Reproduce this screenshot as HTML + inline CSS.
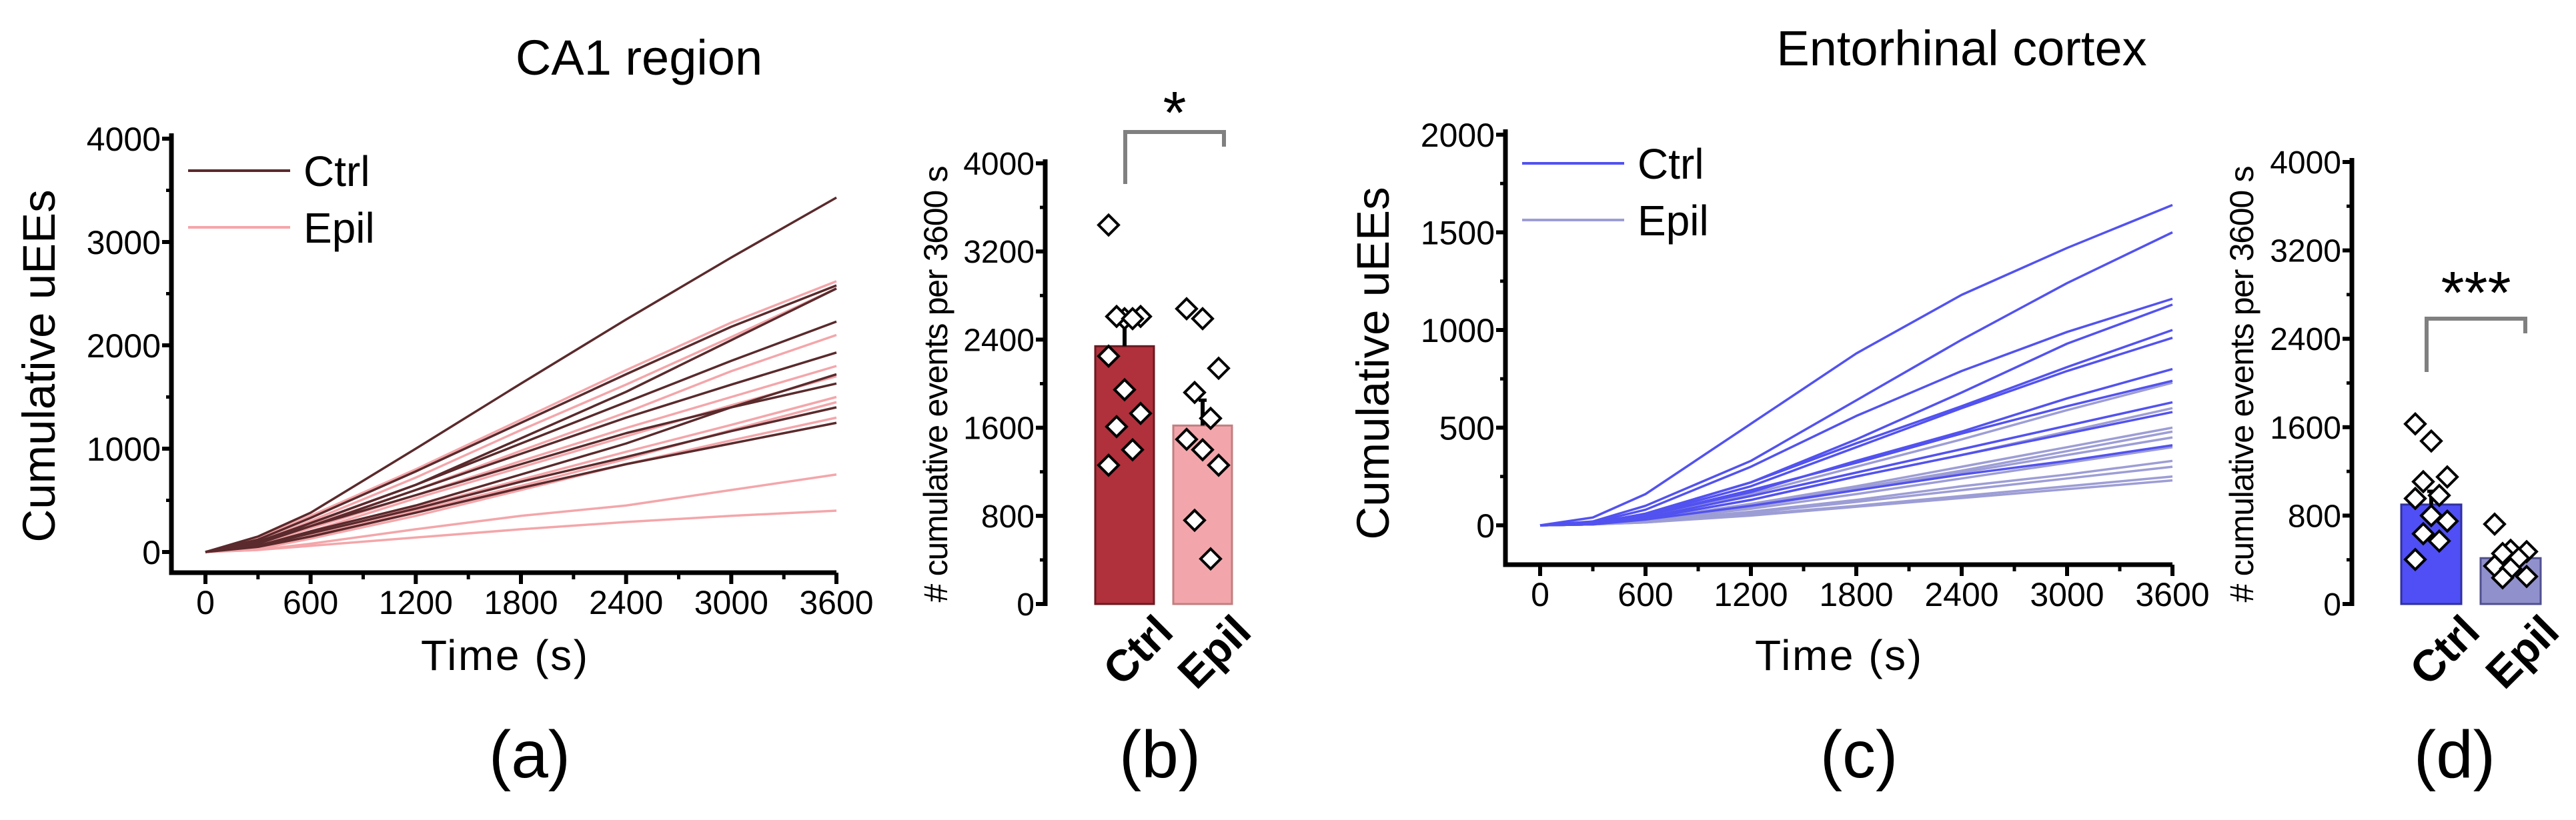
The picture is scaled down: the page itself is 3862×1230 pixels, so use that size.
<!DOCTYPE html>
<html><head><meta charset="utf-8">
<style>
html,body{margin:0;padding:0;background:#fff;}
svg{display:block;}
text{font-family:"Liberation Sans",Arial,sans-serif;fill:#000;}
</style></head>
<body>
<svg id="fig" width="3862" height="1230" viewBox="0 0 3862 1230" xmlns="http://www.w3.org/2000/svg">
<g id="root"></g>
</svg>
<script>
// ---------- DATA ----------
const timePoints = [0,300,600,1200,1800,2400,3000,3600];
const xTickLabels = [0,600,1200,1800,2400,3000,3600];
const caTickLabels = [0,1000,2000,3000,4000];
const ecTickLabels = [0,500,1000,1500,2000];
const barTickLabels = [0,800,1600,2400,3200,4000];
const groups = ["Ctrl","Epil"];

const caCtrl = [
 [0,150,380,1000,1630,2250,2850,3430],
 [0,120,330,780,1250,1720,2180,2580],
 [0,100,280,650,1050,1450,1850,2230],
 [0,90,250,600,950,1300,1620,1930],
 [0,60,200,450,750,1050,1400,1720],
 [0,80,250,550,850,1150,1400,1630],
 [0,60,180,420,680,920,1170,1400],
 [0,50,150,380,620,850,1050,1250],
 [0,80,280,650,1100,1550,2050,2550]
];
const caEpil = [
 [0,130,350,800,1280,1760,2220,2620],
 [0,100,300,720,1180,1620,2080,2550],
 [0,80,260,600,980,1350,1750,2100],
 [0,70,230,550,880,1200,1500,1800],
 [0,60,200,520,820,1120,1420,1700],
 [0,50,170,430,700,970,1230,1500],
 [0,40,160,400,640,900,1180,1450],
 [0,30,130,350,600,850,1080,1300],
 [0,20,80,220,350,450,600,750],
 [0,20,60,140,220,290,350,400]
];
const ecCtrl = [
 [0,40,160,520,880,1180,1420,1640],
 [0,20,100,330,640,950,1240,1500],
 [0,15,80,300,560,790,990,1160],
 [0,10,60,220,440,680,930,1130],
 [0,10,60,220,420,610,810,1000],
 [0,10,55,200,400,600,790,960],
 [0,10,50,170,330,480,650,800],
 [0,10,50,180,320,470,610,740],
 [0,5,40,150,270,390,510,630],
 [0,5,35,130,250,360,470,580],
 [0,5,30,100,180,260,330,410]
];
const ecEpil = [
 [0,10,45,160,300,440,590,730],
 [0,5,35,130,250,360,480,600],
 [0,5,30,110,200,300,400,500],
 [0,5,30,100,190,280,380,480],
 [0,5,25,95,180,270,360,450],
 [0,5,25,85,160,240,320,400],
 [0,5,20,70,130,200,260,330],
 [0,5,20,65,120,180,240,300],
 [0,5,15,55,100,150,200,250],
 [0,5,15,50,95,140,185,230]
];
const bMeans = [2340,1620];
const bErrs = [250,230];
const bCtrlPts = [3440,2590,2610,2610,2590,2250,1945,1730,1610,1400,1260];
const bEpilPts = [2680,2590,2140,1920,1685,1495,1400,1260,760,410];
const dMeans = [900,415];
const dErrs = [120,60];
const dCtrlPts = [1630,1475,1150,1107,983,955,800,750,636,570,403];
const dEpilPts = [723,486,474,457,415,344,320,249,237];

// ---------- HELPERS ----------
const NS="http://www.w3.org/2000/svg";
const root=document.getElementById('root');
function mk(tag,attrs,parent){const e=document.createElementNS(NS,tag);for(const k in attrs)e.setAttribute(k,attrs[k]);(parent||root).appendChild(e);return e;}
function txt(s,attrs,parent){const e=mk('text',attrs,parent);e.textContent=s;return e;}
function lin(d0,d1,r0,r1){return v=>r0+(v-d0)/(d1-d0)*(r1-r0);}

function linePanel(cfg){
  const g=mk('g',{});
  
  
  const x=lin(0,3600,cfg.x0,cfg.x1), y=lin(0,cfg.ymax,cfg.y0,cfg.ytop);
  // series
  const drawSet=(sets,color,nm)=>sets.forEach((s,i)=>{
    const p=mk('polyline',{points:s.map((v,j)=>x(timePoints[j])+','+y(v)).join(' '),fill:'none',stroke:color,'stroke-width':3.5,'stroke-linejoin':'round'},g);
    
    
  });
  drawSet(cfg.epil,cfg.cE,'epil');
  drawSet(cfg.ctrl,cfg.cC,'ctrl');
  // axes
  const ax=mk('path',{d:`M${cfg.ax},${cfg.ytop-8} V${cfg.axY} H${x(3600)}`,fill:'none',stroke:'#000','stroke-width':7},g);
  
  
  cfg.yt.forEach((v,i)=>{
    mk('line',{x1:cfg.ax-14,x2:cfg.ax,y1:y(v),y2:y(v),stroke:'#000','stroke-width':6},g);
    const t=txt(String(v),{x:cfg.ax-16,y:y(v)+18,'font-size':50,'text-anchor':'end'},g);
    
    
    if(i<cfg.yt.length-1){const m=(v+cfg.yt[i+1])/2;mk('line',{x1:cfg.ax-8,x2:cfg.ax,y1:y(m),y2:y(m),stroke:'#000','stroke-width':5},g);}
  });
  xTickLabels.forEach((v,i)=>{
    mk('line',{x1:x(v),x2:x(v),y1:cfg.axY,y2:cfg.axY+17,stroke:'#000','stroke-width':6},g);
    const t=txt(String(v),{x:x(v),y:cfg.axY+62,'font-size':50,'text-anchor':'middle'},g);
    
    
    if(i<xTickLabels.length-1){mk('line',{x1:x(v+300),x2:x(v+300),y1:cfg.axY,y2:cfg.axY+10,stroke:'#000','stroke-width':5},g);}
  });
  // legend
  [[groups[0],cfg.cC,cfg.legY],[groups[1],cfg.cE,cfg.legY+85]].forEach(([lab,c,ly])=>{
    const l=mk('line',{x1:cfg.ax+25,x2:cfg.ax+178,y1:ly,y2:ly,stroke:c,'stroke-width':4},g);
    
    
    const t=txt(lab,{x:cfg.ax+198,y:ly+23,'font-size':64},g);
    
    
  });
  // labels
  const yl=txt('Cumulative uEEs',{x:0,y:0,'font-size':69,'text-anchor':'middle',transform:`translate(${cfg.ylx},${cfg.yly}) rotate(-90)`},g);
  
  
  const xl=txt('Time (s)',{x:cfg.xlx,y:1005,'font-size':64,'text-anchor':'middle',textLength:250},g);
  
  
}

function barPanel(cfg){
  const g=mk('g',{});
  
  
  const y=lin(0,4000,cfg.y0,cfg.ytop);
  const bx=[cfg.b1,cfg.b2], bw=cfg.bw;
  bMeansLocal=cfg.means;
  cfg.means.forEach((m,i)=>{
    const r=mk('rect',{x:bx[i],y:y(m),width:bw,height:cfg.y0-y(m),fill:cfg.fills[i],stroke:cfg.strokes[i],'stroke-width':3},g);
    
    
  });
  // error bars
  cfg.means.forEach((m,i)=>{
    const cx=bx[i]+bw/2;
    const e=mk('line',{x1:cx,x2:cx,y1:y(m),y2:y(m+cfg.errs[i]),stroke:'#000','stroke-width':6},g);
    
    
    mk('line',{x1:cx-6,x2:cx+6,y1:y(m+cfg.errs[i]),y2:y(m+cfg.errs[i]),stroke:'#000','stroke-width':5},g);
  });
  // points
  [cfg.pts0,cfg.pts1].forEach((pts,gi)=>{
    const cx=bx[gi]+bw/2;
    pts.forEach((v,i)=>{
      const dx=((i*7)%5-2)*cfg.jit;
      const px=cx+dx, py=y(v), r=15;
      const d=mk('polygon',{points:`${px},${py-r} ${px+r},${py} ${px},${py+r} ${px-r},${py}`,fill:'#fff',stroke:'#000','stroke-width':4},g);
      
      
    });
  });
  // axis
  const ax=mk('line',{x1:cfg.ax,x2:cfg.ax,y1:cfg.ytop-6,y2:cfg.y0+3,stroke:'#000','stroke-width':7},g);
  
  
  barTickLabels.forEach((v,i)=>{
    mk('line',{x1:cfg.ax-14,x2:cfg.ax,y1:y(v),y2:y(v),stroke:'#000','stroke-width':6},g);
    const t=txt(String(v),{x:cfg.ax-16,y:y(v)+17,'font-size':48,'text-anchor':'end'},g);
    
    
    if(i<barTickLabels.length-1){const m=v+400;mk('line',{x1:cfg.ax-8,x2:cfg.ax,y1:y(m),y2:y(m),stroke:'#000','stroke-width':5},g);}
  });
  const yl=txt('# cumulative events per 3600 s',{x:0,y:0,'font-size':50,'text-anchor':'middle',textLength:655,transform:`translate(${cfg.ylx},${cfg.yly}) rotate(-90)`},g);
  
  
  groups.forEach((lab,i)=>{
    const ex=bx[i]+bw/2+45, ey=cfg.y0+14;
    const t=txt(lab,{x:0,y:0,'font-size':66,'font-weight':'bold','text-anchor':'end',transform:`translate(${ex},${ey}) rotate(-45) translate(0,44)`},g);
    
    
  });
  // significance bracket
  const br=mk('path',{d:`M${cfg.brL},${cfg.brLy} V${cfg.brY} H${cfg.brR} V${cfg.brRy}`,fill:'none',stroke:'#808080','stroke-width':6},g);
  
  
  const st=txt(cfg.star,{x:(cfg.brL+cfg.brR)/2,y:cfg.starY,'font-size':cfg.starSize,'text-anchor':'middle'},g);
  
  
}

// ---------- BUILD ----------
linePanel({name:'panel-a-chart',x0:308,x1:1254,y0:828,ytop:208,ymax:4000,ax:257,axY:859,yt:caTickLabels,
  ctrl:caCtrl,epil:caEpil,cC:'#5a2a2c',cE:'#f4a6aa',legY:256,ylx:82,yly:549,xlx:756});
linePanel({name:'panel-c-chart',x0:2309,x1:3257,y0:788,ytop:202,ymax:2000,ax:2257,axY:847,yt:ecTickLabels,
  ctrl:ecCtrl,epil:ecEpil,cC:'#5252f0',cE:'#9d9dd6',legY:245,ylx:2082,yly:545,xlx:2756});
barPanel({name:'panel-b-chart',y0:906,ytop:245,ax:1567,b1:1642,b2:1759,bw:88,means:bMeans,errs:bErrs,
  fills:['#b0303c','#f2a6ab'],strokes:['#6a1a20','#c08080'],pts0:bCtrlPts,pts1:bEpilPts,jit:12,
  ylx:1420,yly:576,brL:1687,brR:1835,brY:198,brLy:276,brRy:220,star:'*',starY:200,starSize:90});
barPanel({name:'panel-d-chart',y0:906,ytop:243,ax:3526,b1:3600,b2:3719,bw:90,means:dMeans,errs:dErrs,
  fills:['#4f4ff5','#9090cc'],strokes:['#3030a0','#505090'],pts0:dCtrlPts,pts1:dEpilPts,jit:12,
  ylx:3378,yly:576,brL:3638,brR:3786,brY:478,brLy:558,brRy:500,star:'***',starY:470,starSize:90});

// titles and panel letters
[['CA1 region',958,112,'title-ca1'],['Entorhinal cortex',2941,98,'title-entorhinal']].forEach(([s,x,y,n])=>{
  const t=txt(s,{x:x,y:y,'font-size':74,'text-anchor':'middle'});
  
  
});
[['(a)',794],['(b)',1739],['(c)',2787],['(d)',3680]].forEach(([s,x])=>{
  const t=txt(s,{x:x,y:1166,'font-size':100,'text-anchor':'middle'});
  
  
});
</script>
</body></html>
